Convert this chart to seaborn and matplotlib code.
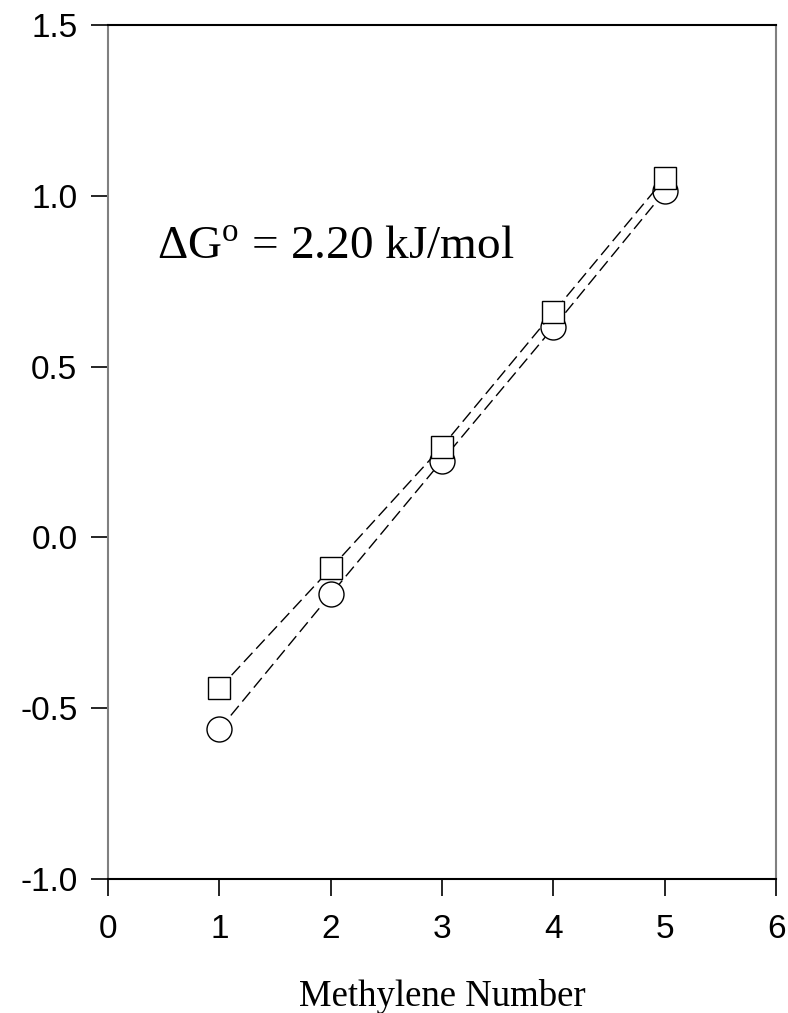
import matplotlib
matplotlib.use("Agg")
import matplotlib.pyplot as plt
import seaborn as sns
import pandas as pd

methylene = [1, 2, 3, 4, 5]
circle_vals = [-0.562, -0.167, 0.225, 0.615, 1.013]
square_vals = [-0.442, -0.091, 0.266, 0.659, 1.051]
xticks = [0, 1, 2, 3, 4, 5, 6]
yticks = [-1.0, -0.5, 0.0, 0.5, 1.0, 1.5]

sns.set_theme(style="white")
plt.rcParams['font.family'] = ['Liberation Sans', 'DejaVu Sans']
plt.rcParams['mathtext.fontset'] = 'custom'
plt.rcParams['mathtext.rm'] = 'Liberation Serif'
plt.rcParams['text.color'] = 'black'
plt.rcParams['axes.labelcolor'] = 'black'
plt.rcParams['xtick.color'] = 'black'
plt.rcParams['ytick.color'] = 'black'

fig = plt.figure(figsize=(7.88, 10.13), dpi=100)
ax = fig.add_axes([0.137, 0.1323, 0.848, 0.843])

df_c = pd.DataFrame({"x": methylene, "y": circle_vals})
df_s = pd.DataFrame({"x": methylene, "y": square_vals})

sns.lineplot(data=df_c, x="x", y="y", ax=ax, color="black", linewidth=1.0,
             linestyle=(0, (9, 4)), marker="o", markersize=18,
             markerfacecolor="white", markeredgecolor="black", markeredgewidth=1.0)
sns.lineplot(data=df_s, x="x", y="y", ax=ax, color="black", linewidth=1.0,
             linestyle=(0, (9, 4)), marker="s", markersize=16,
             markerfacecolor="white", markeredgecolor="black", markeredgewidth=1.0)

ax.set_xlim(0, 6)
ax.set_ylim(-1.0, 1.5)
ax.set_xticks(xticks)
ax.set_xticklabels([str(t) for t in xticks])
ax.set_yticks(yticks)
ax.set_yticklabels([f"{t:.1f}" for t in yticks])
ax.tick_params(axis="both", direction="out", length=12, width=1.2, color="black",
               labelsize=24, labelcolor="black", pad=10, bottom=True, left=True)
ax.tick_params(axis="x", pad=13)

for side in ["left", "right"]:
    ax.spines[side].set_color("#808080")
    ax.spines[side].set_linewidth(1.5)
for side in ["top", "bottom"]:
    ax.spines[side].set_color("black")
    ax.spines[side].set_linewidth(1.5)

ax.set_xlabel("Methylene Number", fontsize=26.5, family=["Liberation Serif"],
              labelpad=25, color="black")
ax.set_ylabel("")

ax.text(0.44, 0.817, "ΔG$^{\\mathrm{o}}$ = 2.20 kJ/mol", fontsize=34,
        family=["Liberation Serif"], va="baseline", ha="left", color="black")

fig.savefig("out.png", dpi=100, facecolor="white")
